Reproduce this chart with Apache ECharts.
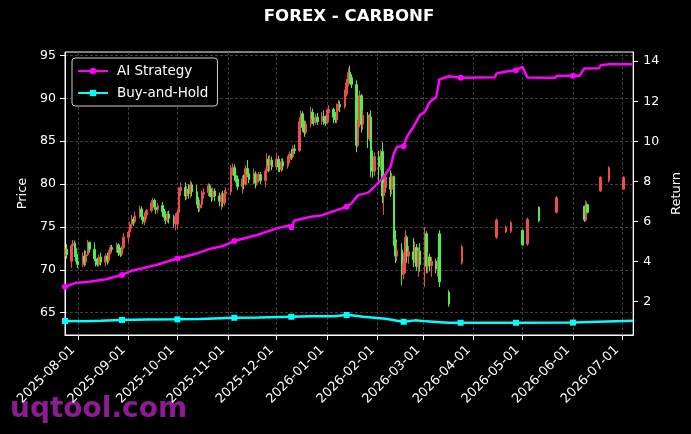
<!DOCTYPE html>
<html><head><meta charset="utf-8">
<script src="https://cdn.jsdelivr.net/npm/echarts@6/dist/echarts.min.js"></script>
<style>html,body{margin:0;padding:0;background:#000}#c{width:691px;height:434px}</style>
</head><body><div id="c"></div>
<script>
// ---------- DATA ----------
const titleText = 'FOREX - CARBONF';
const priceTicks = [65, 70, 75, 80, 85, 90, 95];
const returnTicks = [2, 4, 6, 8, 10, 12, 14];
const dateTicks = ['2025-08-01','2025-09-01','2025-10-01','2025-11-01','2025-12-01','2026-01-01',
  '2026-02-01','2026-03-01','2026-04-01','2026-05-01','2026-06-01','2026-07-01'];
const xStart = '2025-07-24', xEnd = '2026-07-08';

// consecutive business days starting denseStart: [open, close, low, high]
const denseStart = '2025-07-24';
const denseCandles = [
  [71.6,72.4,71.2,72.9],[72.4,71.8,71.3,73.0],
  [71.0,72.8,70.2,73.0],[72.8,73.1,72.0,73.5],[73.1,71.8,71.5,73.4],[71.8,71.0,70.6,72.5],[71.0,70.6,70.2,71.6],
  [70.6,71.6,70.3,72.0],[71.6,70.9,70.4,72.3],[70.9,71.8,70.5,72.2],[71.8,73.2,71.6,73.5],[73.2,72.4,72.0,73.3],
  [72.4,71.3,71.0,73.2],[71.3,70.8,70.4,71.9],[70.8,70.6,70.4,71.4],[70.6,71.5,70.4,71.8],[71.5,70.9,70.5,72.0],
  [70.9,71.6,70.4,71.9],[71.6,71.1,70.6,72.0],[71.1,72.0,70.8,72.3],[72.0,72.6,71.8,72.9],[72.6,72.4,72.2,72.9],
  [72.4,72.9,72.0,73.2],[72.9,72.0,71.6,73.1],[72.0,71.8,71.5,72.6],[71.8,72.6,71.6,72.8],[72.6,73.8,72.4,74.3],
  [73.8,74.4,73.2,74.6],[74.4,75.3,74.0,75.6],[75.3,75.9,74.8,76.4],[75.9,75.6,75.1,76.2],[75.6,76.3,75.4,76.8],
  [76.3,77.1,76.0,77.5],[77.1,76.2,75.8,77.4],[76.2,75.6,75.3,76.6],[75.6,76.4,75.2,76.7],[76.4,76.9,75.9,77.1],
  [76.9,77.8,76.7,78.1],[77.8,78.1,77.3,78.4],[78.1,77.3,77.0,78.3],[77.3,77.0,76.5,77.9],[77.0,77.5,76.6,77.8],
  [77.5,76.8,76.2,77.9],[76.8,76.1,75.7,77.1],[76.1,75.8,75.3,76.5],[75.8,76.5,75.5,76.8],[76.5,76.0,75.4,76.9],
  [76.0,75.4,74.9,76.4],[75.4,76.2,74.6,76.6],[75.3,76.7,74.8,77.0],[76.7,79.2,76.1,79.6],[79.2,79.6,78.6,80.2],
  [79.6,78.6,78.1,80.2],[78.6,79.4,78.2,79.8],[79.4,78.9,78.3,80.0],[78.9,79.9,78.4,80.4],[79.9,79.1,78.6,80.2],
  [79.1,78.0,77.6,79.9],[78.0,77.2,76.7,78.5],[77.2,77.6,76.8,78.2],[77.6,78.8,77.2,79.3],[78.8,79.0,78.3,79.5],
  [79.0,79.8,78.6,80.1],[79.8,79.0,78.5,80.0],[79.0,78.5,77.9,79.5],[78.5,79.2,78.1,79.6],[79.2,78.6,78.0,79.5],
  [78.6,78.0,77.4,79.0],[78.0,78.7,77.0,79.0],[78.7,77.8,77.3,79.2],[77.8,78.9,77.5,79.3],[78.9,79.1,78.3,79.6],
  [79.1,81.6,78.7,82.2],[81.6,81.9,81.0,82.4],[81.9,81.0,80.4,82.3],[81.0,80.6,80.2,81.8],[80.6,79.7,79.3,81.0],
  [79.7,80.6,78.9,81.0],[80.6,80.0,79.4,81.1],[80.0,81.8,79.8,82.2],[81.8,81.2,80.8,82.8],[81.2,80.5,80.1,81.6],
  [80.5,81.2,80.0,81.8],[81.2,80.1,79.5,81.5],[80.1,80.8,79.8,81.2],[80.8,81.1,80.2,81.4],[81.1,80.4,80.0,81.4],
  [80.4,81.5,79.6,81.8],[81.5,82.9,81.3,83.6],[82.9,82.2,81.4,83.3],[82.2,82.8,81.5,83.4],[82.8,82.0,81.6,83.2],
  [82.0,82.9,81.6,83.6],[82.9,82.0,81.4,83.3],[82.0,81.7,81.4,82.5],[81.7,82.6,81.4,83.0],[82.6,82.1,81.6,83.0],
  [82.1,82.9,81.8,83.3],[82.9,83.5,82.4,83.8],[83.5,83.2,82.8,84.1],[83.2,84.1,83.0,84.5],[84.1,83.9,83.5,84.6],
  [83.9,87.3,83.7,87.8],[87.3,88.2,86.9,88.6],[88.2,86.6,86.1,88.5],[86.6,86.0,85.5,87.4],[86.0,87.0,85.8,87.4],
  [87.0,88.4,86.6,89.0],[88.4,87.6,87.0,88.8],[87.6,87.2,86.8,88.1],[87.2,87.8,86.9,88.2],[87.8,87.3,86.9,88.3],
  [87.3,87.9,86.9,88.4],[87.9,87.4,86.9,88.6],[87.4,87.1,86.8,88.0],[87.1,88.3,87.0,88.7],[88.3,88.7,87.2,89.2],
  [88.7,87.8,87.1,88.9],[87.8,87.5,87.1,88.4],[87.5,88.9,87.1,89.4],[88.9,89.3,88.5,89.8],[89.3,89.0,88.4,89.7],
  [89.0,90.5,88.8,91.0],[90.5,91.8,90.2,92.3],[91.8,93.0,91.4,93.5],[93.0,92.4,91.7,93.8],[92.4,91.6,91.2,92.8],
  [91.6,84.5,83.7,92.1],[84.5,86.9,84.3,87.5],[86.9,90.3,86.6,90.9],[90.3,87.0,86.0,90.5],[87.0,88.0,86.3,88.6],
  [88.0,85.3,84.2,88.4],[85.3,87.8,85.0,88.2],[87.8,82.2,80.8,88.6],[82.2,81.5,80.7,83.9],[81.5,83.2,80.9,83.7],
  [83.2,82.0,80.4,83.9],[82.0,83.8,81.6,84.0],[83.8,78.6,77.8,84.9],[78.6,79.6,76.4,80.1],[79.6,80.8,79.0,81.2],
  [80.8,79.4,78.5,81.6],[79.4,80.9,78.8,81.3],[80.9,73.5,72.8,81.0],[73.5,71.6,70.8,74.6],[71.6,72.3,71.0,73.2],
  [72.3,69.5,68.2,73.1],[69.5,70.8,68.9,72.0],[70.8,73.8,69.6,74.6],[73.8,71.6,70.9,74.0],[71.6,72.1,70.7,72.8],
  [72.1,71.2,70.3,73.7],[71.2,72.6,70.8,73.3],[72.6,70.4,69.9,73.0],[70.4,72.2,69.2,72.6],[72.2,70.6,69.8,73.1],
  [70.6,74.2,68.0,75.0],[74.2,70.4,69.6,74.5],[70.4,71.5,69.6,72.0],[71.5,70.5,69.8,71.9],[70.5,71.0,69.2,71.5],
  [71.0,70.1,69.6,71.3],[70.1,71.2,69.2,71.5],[74.2,68.6,68.0,74.6]
];
// isolated candles later in the period
const sparseDates = ['2026-03-17','2026-03-25','2026-04-15','2026-04-21','2026-04-24','2026-05-01','2026-05-04',
  '2026-05-11','2026-05-22','2026-06-08','2026-06-09','2026-06-10','2026-06-18','2026-06-23','2026-07-02'];
const sparseCandles = [
  [67.4,66.0,65.7,67.6],[70.8,72.7,70.6,72.9],[73.8,75.8,73.6,76.0],[74.4,75.0,74.3,75.2],[74.5,75.5,74.3,75.7],
  [74.6,72.9,72.8,74.7],[73.0,75.9,72.8,76.1],[77.3,75.7,75.6,77.4],[76.7,78.4,76.6,78.6],[77.4,75.8,75.6,77.5],
  [75.8,77.9,75.6,78.1],[77.6,76.7,76.6,77.7],[79.2,80.8,79.1,80.9],[80.4,81.9,80.2,82.1],[79.4,80.8,79.3,80.9]
];

const markerDates = ['2025-07-24','2025-08-28','2025-10-01','2025-11-05','2025-12-10','2026-01-13',
  '2026-02-17','2026-03-24','2026-04-27','2026-06-01'];

const aiStrategy = [
  ['2025-07-24',2.75],['2025-07-31',2.95],['2025-08-08',3.0],['2025-08-18',3.12],['2025-08-28',3.33],
  ['2025-09-03',3.55],['2025-09-18',3.83],['2025-10-01',4.16],['2025-10-13',4.41],['2025-10-22',4.66],
  ['2025-10-29',4.78],['2025-11-05',5.03],['2025-11-19',5.33],['2025-12-01',5.66],['2025-12-09',5.82],
  ['2025-12-10',5.72],['2025-12-12',6.05],['2025-12-22',6.24],['2025-12-29',6.32],['2026-01-07',6.57],
  ['2026-01-13',6.74],['2026-01-16',6.91],['2026-01-20',7.32],['2026-01-26',7.43],['2026-01-30',7.73],
  ['2026-02-04',8.15],['2026-02-09',8.73],['2026-02-11',9.4],['2026-02-13',9.73],['2026-02-17',9.76],
  ['2026-02-19',10.23],['2026-02-23',10.72],['2026-02-27',11.31],['2026-03-02',11.47],['2026-03-05',11.97],
  ['2026-03-09',12.22],['2026-03-11',13.09],['2026-03-17',13.25],['2026-03-24',13.18],['2026-04-14',13.2],
  ['2026-04-15',13.39],['2026-04-22',13.5],['2026-04-27',13.55],['2026-05-01',13.72],['2026-05-04',13.19],
  ['2026-05-21',13.17],['2026-05-22',13.27],['2026-06-01',13.27],['2026-06-05',13.27],['2026-06-08',13.64],
  ['2026-06-17',13.65],['2026-06-18',13.8],['2026-06-23',13.85],['2026-07-08',13.85]
];
const buyHold = [
  ['2025-07-24',1.04],['2025-08-05',1.03],['2025-08-15',1.05],['2025-08-28',1.09],['2025-09-12',1.11],
  ['2025-10-01',1.12],['2025-10-15',1.14],['2025-11-05',1.2],['2025-11-20',1.21],['2025-12-10',1.25],
  ['2025-12-22',1.27],['2026-01-05',1.28],['2026-01-13',1.34],['2026-01-16',1.33],['2026-01-23',1.25],
  ['2026-01-30',1.2],['2026-02-06',1.15],['2026-02-13',1.05],['2026-02-17',1.0],['2026-02-24',1.07],
  ['2026-03-03',1.02],['2026-03-11',0.98],['2026-03-17',0.95],['2026-03-24',0.95],['2026-04-27',0.95],
  ['2026-06-01',0.96],['2026-07-08',1.05]
];

// ---------- BUILD ----------
function ts(s){ const p = s.split('-'); return new Date(+p[0], +p[1]-1, +p[2]).getTime(); }
function fmt(v){ const d = new Date(v); const m = d.getMonth()+1, dd = d.getDate();
  return d.getFullYear() + '-' + (m<10?'0':'') + m + '-' + (dd<10?'0':'') + dd; }

const candleData = [];
(function(){
  const p = denseStart.split('-');
  let d = new Date(+p[0], +p[1]-1, +p[2]);
  denseCandles.forEach(function(r){
    while (d.getDay() === 0 || d.getDay() === 6) d.setDate(d.getDate()+1);
    candleData.push([d.getTime(), r[0], r[1], r[2], r[3]]);
    d.setDate(d.getDate()+1);
  });
  sparseDates.forEach(function(s, i){ const r = sparseCandles[i]; candleData.push([ts(s), r[0], r[1], r[2], r[3]]); });
})();
const markSet = new Set(markerDates);
function lineData(arr, size){
  return arr.map(function(r){ return { value: [ts(r[0]), r[1]], symbolSize: markSet.has(r[0]) ? size : 0 }; });
}

const FONT = 'DejaVu Sans';
const gridLine = { show: true, lineStyle: { color: '#4d4d4d', width: 0.8, type: [3, 2] } };
const chart = echarts.init(document.getElementById('c'), null, { renderer: 'canvas' });
chart.setOption({
  animation: false,
  backgroundColor: '#000',
  textStyle: { fontFamily: FONT },
  title: { text: titleText, left: 349, top: 8, textAlign: 'center', padding: 0,
    textStyle: { color: '#fff', fontSize: 16.6, fontWeight: 'bold', fontFamily: FONT } },
  legend: {
    left: 72, top: 58, orient: 'vertical', itemWidth: 30, itemHeight: 8, itemGap: 8,
    padding: [6, 9, 6, 5], backgroundColor: '#000', borderColor: '#cccccc', borderWidth: 1, borderRadius: 3,
    textStyle: { color: '#fff', fontSize: 13.5, fontFamily: FONT, padding: [0, 0, 0, 4] },
    data: ['AI Strategy', 'Buy-and-Hold']
  },
  grid: { left: 65, right: 57, top: 52, bottom: 99, show: true, borderColor: '#fff', borderWidth: 1,
    backgroundColor: '#000', containLabel: false },
  xAxis: {
    type: 'value', min: ts(xStart), max: ts(xEnd), scale: true,
    axisLine: { lineStyle: { color: '#fff' } },
    axisTick: { show: true, length: 5, lineStyle: { color: '#fff' }, customValues: dateTicks.map(ts) },
    axisLabel: { color: '#fff', fontSize: 13, fontFamily: FONT, rotate: 45, margin: 8, padding: [0, 7, 0, 0],
      customValues: dateTicks.map(ts), formatter: function(v){ return fmt(v); } },
    splitLine: gridLine
  },
  yAxis: [{
    type: 'value', min: 62.4, max: 95.4, position: 'left',
    name: 'Price', nameLocation: 'middle', nameRotate: 90, nameGap: 31,
    nameTextStyle: { color: '#fff', fontSize: 13, fontFamily: FONT },
    axisLine: { show: true, lineStyle: { color: '#fff' } },
    axisTick: { show: true, length: 5, lineStyle: { color: '#fff' }, customValues: priceTicks },
    axisLabel: { color: '#fff', fontSize: 12.5, fontFamily: FONT, margin: 9, customValues: priceTicks },
    splitLine: gridLine
  }, {
    type: 'value', min: 0.34, max: 14.46, position: 'right',
    name: 'Return', nameLocation: 'middle', nameRotate: 90, nameGap: 30,
    nameTextStyle: { color: '#fff', fontSize: 13, fontFamily: FONT },
    axisLine: { show: true, lineStyle: { color: '#fff' } },
    axisTick: { show: true, length: 5, lineStyle: { color: '#fff' }, customValues: returnTicks },
    axisLabel: { color: '#fff', fontSize: 12.5, fontFamily: FONT, margin: 10, customValues: returnTicks },
    splitLine: { show: false }
  }],
  graphic: [{
    type: 'text', left: 10, top: 396, z: -10, silent: true,
    style: { text: 'uqtool.com', fill: '#8c1c94', font: 'bold 28px "DejaVu Sans"' }
  }],
  series: [{
    type: 'candlestick', name: 'Price', yAxisIndex: 0, barWidth: 2,
    encode: { x: 0, y: [1, 2, 3, 4] },
    itemStyle: { color: '#f04a4a', color0: '#4cef4c', borderColor: '#f04a4a', borderColor0: '#4cef4c', borderWidth: 1 },
    data: candleData
  }, {
    type: 'line', name: 'AI Strategy', yAxisIndex: 1, symbol: 'circle', showAllSymbol: true,
    lineStyle: { color: '#ff00ff', width: 2.5 }, itemStyle: { color: '#ff00ff' },
    data: lineData(aiStrategy, 6), z: 5
  }, {
    type: 'line', name: 'Buy-and-Hold', yAxisIndex: 1, symbol: 'rect', showAllSymbol: true,
    lineStyle: { color: '#00ffff', width: 2.5 }, itemStyle: { color: '#00ffff' },
    data: lineData(buyHold, 6), z: 5
  }]
});
</script></body></html>
